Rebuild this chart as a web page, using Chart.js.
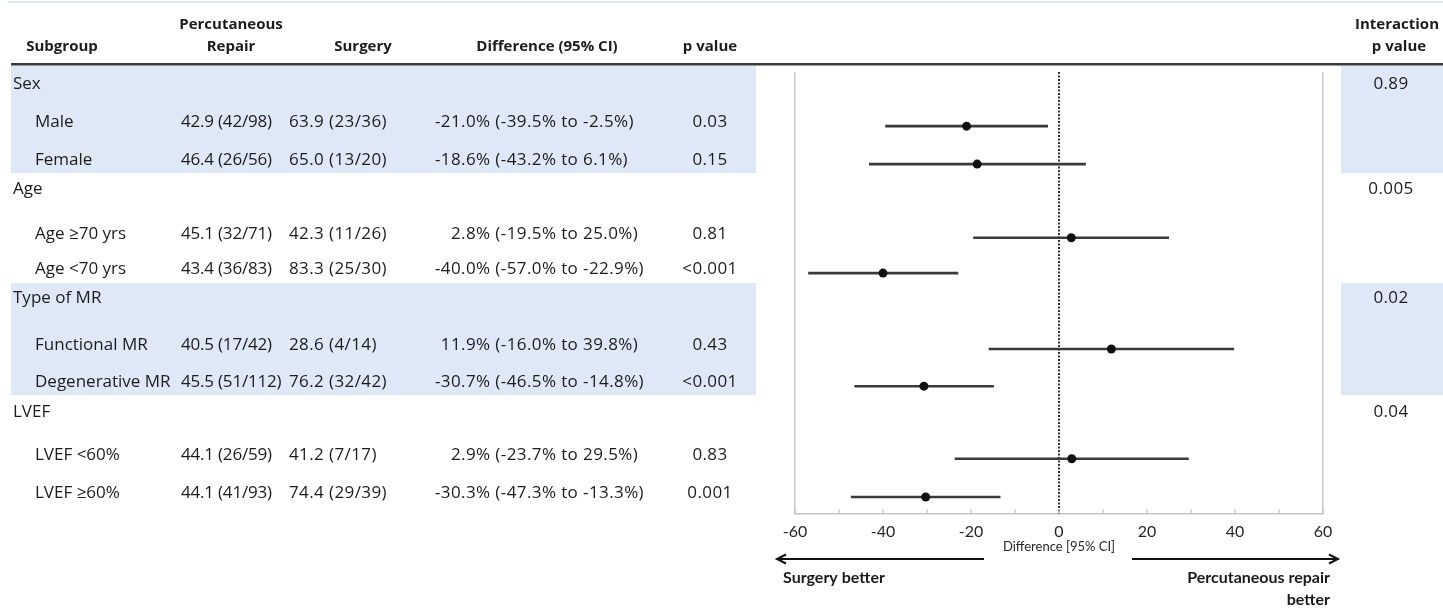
<!DOCTYPE html>
<html>
<head>
<meta charset="utf-8">
<script src="https://cdn.jsdelivr.net/npm/chart.js@4.4.1/dist/chart.umd.min.js"></script>
<style>
  html, body { margin: 0; padding: 0; background: #ffffff; }
  #wrap { width: 1443px; height: 608px; position: relative; }
</style>
</head>
<body>
<div id="wrap"><canvas id="forest"></canvas></div>
<script>
// ---- Subgroup data ----
const groups = ['Sex', 'Age', 'Type of MR', 'LVEF'];
const interactionP = ['0.89', '0.005', '0.02', '0.04'];

const subgroups = ['Male', 'Female', 'Age \u226570 yrs', 'Age <70 yrs',
                   'Functional MR', 'Degenerative MR', 'LVEF <60%', 'LVEF \u226560%'];
const subgroupGroup = [0, 0, 1, 1, 2, 2, 3, 3];

const percRate   = [42.9, 46.4, 45.1, 43.4, 40.5, 45.5, 44.1, 44.1];
const percEvents = [42, 26, 32, 36, 17, 51, 26, 41];
const percN      = [98, 56, 71, 83, 42, 112, 59, 93];

const surgRate   = [63.9, 65.0, 42.3, 83.3, 28.6, 76.2, 41.2, 74.4];
const surgEvents = [23, 13, 11, 25, 4, 32, 7, 29];
const surgN      = [36, 20, 26, 30, 14, 42, 17, 39];

const diff   = [-21.0, -18.6, 2.8, -40.0, 11.9, -30.7, 2.9, -30.3];
const ciLow  = [-39.5, -43.2, -19.5, -57.0, -16.0, -46.5, -23.7, -47.3];
const ciHigh = [-2.5, 6.1, 25.0, -22.9, 39.8, -14.8, 29.5, -13.3];
const pValues = ['0.03', '0.15', '0.81', '<0.001', '0.43', '<0.001', '0.83', '0.001'];

const xTickLabels = [-60, -40, -20, 0, 20, 40, 60];

// ---- Layout (row positions on the vertical scale, 0 = top, 12 = bottom) ----
const groupRowPos = [0.33, 3.18, 6.14, 9.23];
const subRowPos   = [1.47, 2.5, 4.5, 5.46, 7.52, 8.53, 10.5, 11.54];
const shadedGroups = [0, 2];

const BODY_FONT = '"Open Sans", "Noto Sans", sans-serif';
const AXIS_FONT = 'Lato, "Open Sans", sans-serif';
const TEXT = '#1c1c1c';
const SHADE = '#dee8f6';
const RULE_Y = 64;
const TEXT_SHIFT = -4;

const fmt1 = v => v.toFixed(1);
const repairText = i => `${fmt1(percRate[i])} (${percEvents[i]}/${percN[i]})`;
const surgeryText = i => `${fmt1(surgRate[i])} (${surgEvents[i]}/${surgN[i]})`;
const diffPrefix = i => `${fmt1(diff[i])}% `;
const diffRest = i => `(${fmt1(ciLow[i])}% to ${fmt1(ciHigh[i])}%)`;

function arrow(ctx, x1, x2, y) {
  const dir = Math.sign(x2 - x1);
  ctx.beginPath();
  ctx.moveTo(x1, y);
  ctx.lineTo(x2 - dir * 2, y);
  ctx.stroke();
  ctx.beginPath();
  ctx.moveTo(x2 - dir * 9, y - 4.5);
  ctx.lineTo(x2, y);
  ctx.lineTo(x2 - dir * 9, y + 4.5);
  ctx.stroke();
}

// Table, shading and annotations around the forest plot
const tablePlugin = {
  id: 'subgroupTable',
  beforeDraw(chart) {
    const { ctx, scales: { y } } = chart;
    ctx.save();
    ctx.fillStyle = '#ffffff';
    ctx.fillRect(0, 0, chart.width, chart.height);

    // thin line across the very top
    ctx.fillStyle = '#e1e8f0';
    ctx.fillRect(8, 1, chart.width - 8, 2);

    // shaded subgroup blocks
    ctx.fillStyle = SHADE;
    shadedGroups.forEach(g => {
      const members = subgroupGroup.map((gg, i) => gg === g ? i : -1).filter(i => i >= 0);
      const headPx = y.getPixelForValue(groupRowPos[g]);
      const top = g === 0 ? RULE_Y + 1 : headPx - 15;
      const bottom = y.getPixelForValue(subRowPos[members[members.length - 1]]) + 9;
      ctx.fillRect(11, top, 756 - 11, bottom - top);
      ctx.fillRect(1341, top, chart.width - 1341, bottom - top);
    });

    // header rule
    ctx.fillStyle = '#3a3a3a';
    ctx.fillRect(11, RULE_Y - 1, chart.width - 11, 2);
    ctx.fillStyle = '#9a9a9a';
    ctx.fillRect(11, RULE_Y + 1, chart.width - 11, 1);
    ctx.restore();
  },
  afterDraw(chart) {
    const { ctx, scales: { x, y }, chartArea } = chart;
    ctx.save();
    ctx.textBaseline = 'middle';

    // column headers
    ctx.fillStyle = TEXT;
    ctx.font = `bold 15px ${BODY_FONT}`;
    ctx.textAlign = 'center';
    ctx.fillText('Subgroup', 62, 47);
    ctx.fillText('Percutaneous', 231, 25);
    ctx.fillText('Repair', 231, 47);
    ctx.fillText('Surgery', 363, 47);
    ctx.fillText('Difference (95% CI)', 547, 47);
    ctx.fillText('p value', 710, 47);
    ctx.fillText('Interaction', 1397, 25);
    ctx.fillText('p value', 1399, 47);

    // group rows
    ctx.font = `17px ${BODY_FONT}`;
    groups.forEach((g, gi) => {
      const py = y.getPixelForValue(groupRowPos[gi]);
      ctx.textAlign = 'left';
      ctx.fillText(g, 13, py);
      ctx.textAlign = 'center';
      ctx.letterSpacing = '0.4px';
      ctx.fillText(interactionP[gi], 1391, py);
      ctx.letterSpacing = '0px';
    });

    // subgroup rows
    subgroups.forEach((s, i) => {
      const py = y.getPixelForValue(subRowPos[i]) + TEXT_SHIFT;
      ctx.textAlign = 'left';
      ctx.letterSpacing = '0px';
      ctx.fillText(s, 35, py);
      ctx.letterSpacing = '-0.2px';
      ctx.fillText(repairText(i), 181, py);
      ctx.letterSpacing = '0.4px';
      ctx.fillText(surgeryText(i), 289, py);
      const parenX = 435 + ctx.measureText('-40.0% ').width;
      const pre = diffPrefix(i);
      ctx.fillText(pre + diffRest(i), parenX - ctx.measureText(pre).width, py);
      ctx.textAlign = 'center';
      ctx.fillText(pValues[i], 710, py);
    });
    ctx.letterSpacing = '0px';

    // inward tick marks along the x axis
    ctx.strokeStyle = '#c4c4c4';
    ctx.lineWidth = 1.2;
    x.ticks.forEach(t => {
      const px = x.getPixelForValue(t.value);
      ctx.beginPath();
      ctx.moveTo(px, chartArea.bottom);
      ctx.lineTo(px, chartArea.bottom - 5);
      ctx.stroke();
    });

    // axis title
    ctx.fillStyle = '#262626';
    ctx.font = `13px ${AXIS_FONT}`;
    ctx.textAlign = 'center';
    ctx.fillText('Difference [95% CI]', x.getPixelForValue(0), 547);

    // direction arrows
    ctx.strokeStyle = '#111111';
    ctx.lineWidth = 2;
    arrow(ctx, 984, 777, 559);
    arrow(ctx, 1132, 1338, 559);

    ctx.fillStyle = '#1a1a1a';
    ctx.font = `bold 16px ${AXIS_FONT}`;
    ctx.textAlign = 'left';
    ctx.fillText('Surgery better', 783, 578);
    ctx.textAlign = 'right';
    ctx.fillText('Percutaneous repair', 1330, 578);
    ctx.fillText('better', 1330, 600);
    ctx.restore();
  }
};

const ciDatasets = subgroups.map((s, i) => ({
  type: 'scatter',
  label: s,
  data: [{ x: ciLow[i], y: subRowPos[i] }, { x: ciHigh[i], y: subRowPos[i] }],
  showLine: true,
  borderColor: '#3a3a3a',
  borderWidth: 2.6,
  pointRadius: 0,
  order: 1
}));

new Chart(document.getElementById('forest'), {
  type: 'scatter',
  data: {
    datasets: [
      {
        label: 'Difference',
        data: diff.map((d, i) => ({ x: d, y: subRowPos[i] })),
        pointRadius: 4.5,
        pointBackgroundColor: '#111111',
        pointBorderColor: '#111111',
        pointBorderWidth: 0,
        showLine: false,
        order: 0
      },
      ...ciDatasets,
      {
        label: 'No difference',
        data: [{ x: 0, y: 0 }, { x: 0, y: 12 }],
        showLine: true,
        borderColor: '#000000',
        borderWidth: 1.6,
        borderDash: [2, 1.5],
        pointRadius: 0,
        order: 2
      }
    ]
  },
  options: {
    responsive: true,
    maintainAspectRatio: false,
    animation: false,
    devicePixelRatio: 1,
    layout: { padding: { left: 795, right: 120, top: 72, bottom: 0 } },
    plugins: { legend: { display: false }, tooltip: { enabled: false } },
    scales: {
      x: {
        type: 'linear',
        min: xTickLabels[0],
        max: xTickLabels[xTickLabels.length - 1],
        afterFit(scale) { scale.height = 94; },
        border: { display: true, color: '#c4c4c4', width: 1.5 },
        grid: {
          drawTicks: false,
          lineWidth: 1.5,
          color: c => (c.tick && (c.tick.value === xTickLabels[0] ||
                       c.tick.value === xTickLabels[xTickLabels.length - 1])) ? '#c8c8c8' : 'rgba(0,0,0,0)'
        },
        ticks: {
          stepSize: 10,
          padding: 8,
          color: '#262626',
          font: { family: AXIS_FONT, size: 16 },
          callback: v => xTickLabels.includes(v) ? String(v) : ''
        }
      },
      y: {
        type: 'linear',
        min: 0,
        max: 12,
        reverse: true,
        display: false
      }
    }
  },
  plugins: [tablePlugin]
});
</script>
</body>
</html>
